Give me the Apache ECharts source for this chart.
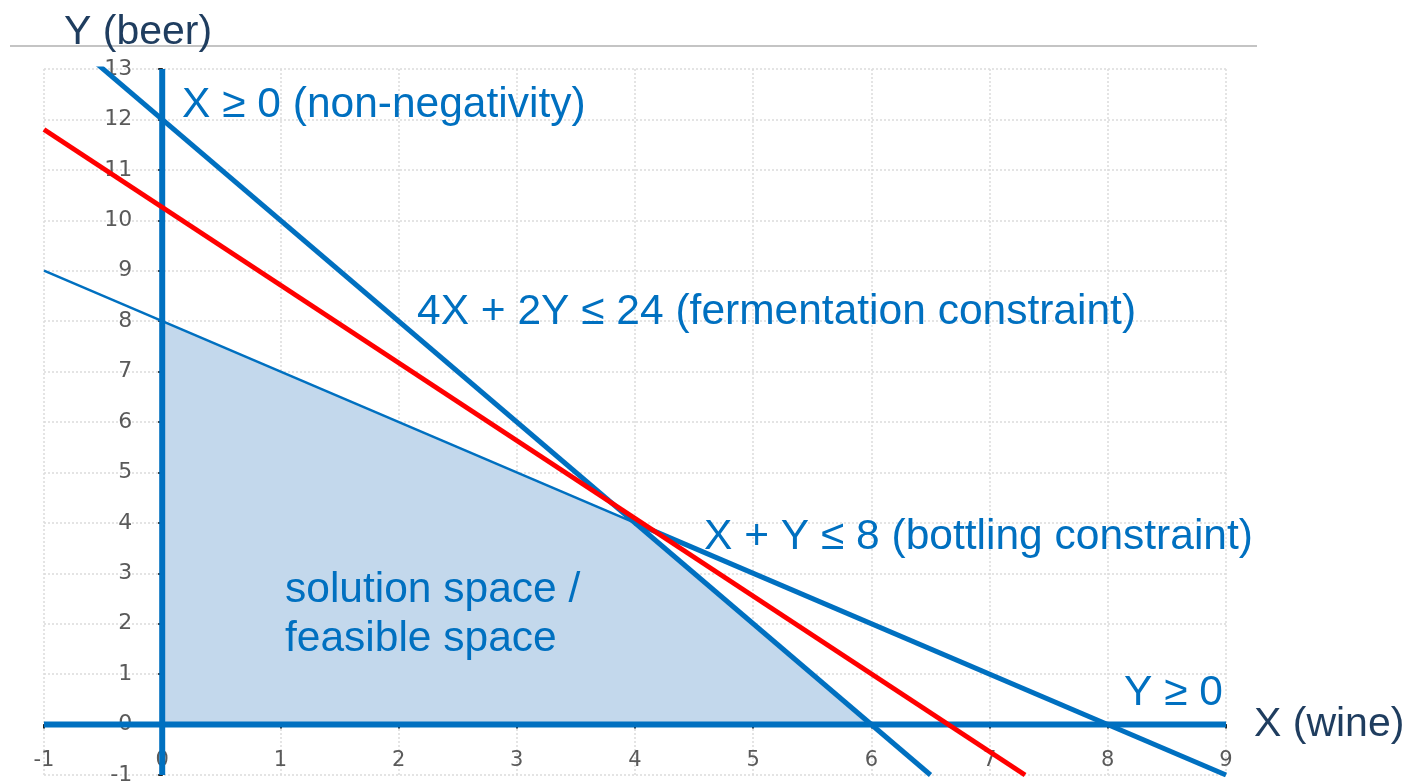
<!DOCTYPE html>
<html>
<head>
<meta charset="utf-8">
<script src="https://cdn.jsdelivr.net/npm/echarts@6/dist/echarts.min.js"></script>
<style>
  html, body { margin: 0; padding: 0; background: #ffffff; }
  #main { width: 1408px; height: 782px; }
</style>
</head>
<body>
<div id="main"></div>
<script>
// axis ranges / ticks
var xTicks = [-1, 9];
var yTicks = [-1, 13];

// constraint lines (x, y)
var fermentation = [[-0.55, 13.1], [6.5, -1]];      // 4X + 2Y = 24
var bottlingLeft = [[-1, 9], [4, 4]];               // X + Y = 8
var bottlingRight = [[4, 4], [9, -1]];
var objective = [[-1, 11.8], [7.3, -1]];            // red line
var yNonNeg = [[-1, 0], [9, 0]];                    // Y >= 0
var xNonNeg = [[0, -1], [0, 13]];                   // X >= 0
var feasible = [[0, 8], [4, 4], [6, 0]];            // solution space

var BLUE = '#0070c0';
var NAVY = '#1f3d5f';
var TXT = 'Liberation Sans, Arial, sans-serif';

var GRID = { left: 44, right: 182, top: 69, bottom: 7 };
var plotW = 1408 - GRID.left - GRID.right;
var plotH = 782 - GRID.top - GRID.bottom;
// shift axes from the grid edge to the zero line
var xShift = plotH * (0 - yTicks[0]) / (yTicks[1] - yTicks[0]);
var yShift = plotW * (0 - xTicks[0]) / (xTicks[1] - xTicks[0]);

var chart = echarts.init(document.getElementById('main'));

function seg(name, data, color, width, z) {
  return {
    name: name,
    type: 'line',
    data: data,
    symbol: 'none',
    silent: true,
    lineStyle: { color: color, width: width, cap: 'butt' },
    z: z
  };
}

function txt(x, y, s, color, size) {
  return {
    type: 'text', x: x, y: y, z: 10,
    style: { text: s, fill: color, font: size + 'px ' + TXT, textVerticalAlign: 'middle' }
  };
}

var option = {
  backgroundColor: '#ffffff',
  animation: false,
  grid: {
    left: GRID.left, right: GRID.right, top: GRID.top, bottom: GRID.bottom,
    containLabel: false, outerBoundsMode: 'none'
  },
  xAxis: {
    type: 'value',
    min: xTicks[0],
    max: xTicks[1],
    interval: 1,
    position: 'bottom',
    offset: -xShift,
    axisLine: { onZero: false, lineStyle: { color: '#222', width: 2 } },
    axisTick: { show: true, length: 4, lineStyle: { color: '#222', width: 2 } },
    axisLabel: { color: '#5a5a5a', fontSize: 21, fontFamily: 'DejaVu Sans', margin: 25 },
    splitLine: { show: true, lineStyle: { color: '#dcdcdc', type: [2, 2], width: 1.5 } }
  },
  yAxis: {
    type: 'value',
    min: yTicks[0],
    max: yTicks[1],
    interval: 1,
    position: 'left',
    offset: -yShift,
    axisLine: { onZero: false, lineStyle: { color: '#222', width: 2 } },
    axisTick: { show: true, length: 4, lineStyle: { color: '#222', width: 2 } },
    axisLabel: { color: '#5a5a5a', fontSize: 22, fontFamily: 'DejaVu Sans', margin: 30 },
    splitLine: { show: true, lineStyle: { color: '#dcdcdc', type: [2, 2], width: 1.5 } }
  },
  series: [
    {
      name: 'feasible',
      type: 'line',
      data: feasible,
      symbol: 'none',
      silent: true,
      lineStyle: { width: 0 },
      areaStyle: { color: '#c3d8ec', opacity: 1, origin: 'auto' },
      z: 1
    },
    seg('bottling-left', bottlingLeft, BLUE, 2.5, 3),
    seg('bottling-right', bottlingRight, BLUE, 5, 3),
    seg('fermentation', fermentation, BLUE, 5, 4),
    seg('y-nonneg', yNonNeg, BLUE, 6, 5),
    seg('x-nonneg', xNonNeg, BLUE, 6, 5),
    seg('objective', objective, '#ff0000', 5, 6)
  ],
  graphic: [
    { type: 'line', shape: { x1: 10, y1: 46, x2: 1257, y2: 46 }, style: { stroke: '#c4c4c4', lineWidth: 2 }, z: 10 },
    txt(64, 33, 'Y (beer)', NAVY, 41),
    txt(1254, 725, 'X (wine)', NAVY, 41),
    txt(182, 105, 'X ≥ 0 (non-negativity)', BLUE, 42.5),
    txt(417, 312, '4X + 2Y ≤ 24 (fermentation constraint)', BLUE, 42.5),
    txt(704, 537, 'X + Y ≤ 8 (bottling constraint)', BLUE, 42.5),
    txt(285, 590, 'solution space /', BLUE, 42.5),
    txt(285, 639, 'feasible space', BLUE, 42.5),
    txt(1124, 693, 'Y ≥ 0', BLUE, 42.5)
  ]
};

chart.setOption(option);
</script>
</body>
</html>
